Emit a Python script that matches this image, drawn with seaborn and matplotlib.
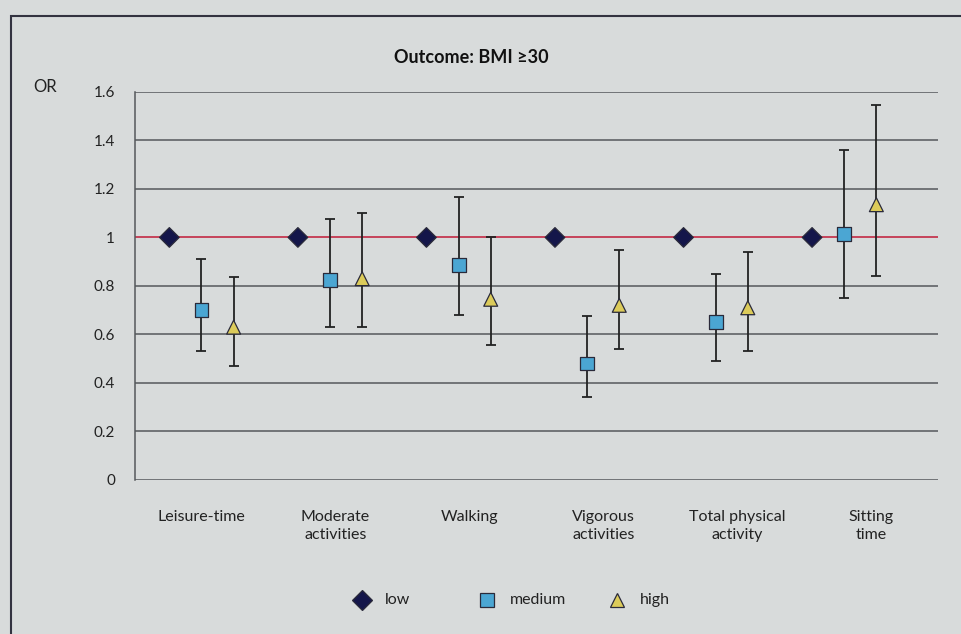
import matplotlib
matplotlib.use("Agg")
import matplotlib.pyplot as plt
from matplotlib.patches import Rectangle
from matplotlib.lines import Line2D
import numpy as np
import pandas as pd
import seaborn as sns

# Odds ratios (low level is the reference = 1)
activities = ["Leisure-time", "Moderate\nactivities", "Walking", "Vigorous\nactivities",
              "Total physical\nactivity", "Sitting\ntime"]
levels = ["low", "medium", "high"]

low_or = [1, 1, 1, 1, 1, 1]
medium_or = [0.70, 0.825, 0.885, 0.48, 0.65, 1.015]
medium_lo = [0.53, 0.63, 0.68, 0.34, 0.49, 0.75]
medium_hi = [0.91, 1.075, 1.165, 0.675, 0.85, 1.36]
high_or = [0.63, 0.83, 0.745, 0.72, 0.71, 1.135]
high_lo = [0.47, 0.63, 0.555, 0.54, 0.53, 0.84]
high_hi = [0.835, 1.10, 1.0, 0.95, 0.94, 1.545]

y_ticks = [0, 0.2, 0.4, 0.6, 0.8, 1, 1.2, 1.4, 1.6]
y_tick_labels = ["0", "0.2", "0.4", "0.6", "0.8", "1", "1.2", "1.4", "1.6"]

bg = "#d8dbdb"
colors = {"low": "#14164a", "medium": "#4ba6d3", "high": "#dccb5a"}
markers = {"low": "D", "medium": "s", "high": "^"}
offsets = {"low": -0.24, "medium": 0.0, "high": 0.24}
group_step = 0.96   # markers sit on a slightly tighter grid than the labels

rows = []
for i, act in enumerate(activities):
    rows.append(dict(act=act, level="low", OR=low_or[i], lo=np.nan, hi=np.nan, idx=i))
    rows.append(dict(act=act, level="medium", OR=medium_or[i], lo=medium_lo[i], hi=medium_hi[i], idx=i))
    rows.append(dict(act=act, level="high", OR=high_or[i], lo=high_lo[i], hi=high_hi[i], idx=i))
df = pd.DataFrame(rows)
df["x"] = df["idx"] * group_step + df["level"].map(offsets)

sns.set_style("white")
plt.rcParams["font.family"] = ["Lato", "DejaVu Sans"]

fig = plt.figure(figsize=(9.61, 6.34), dpi=100, facecolor=bg)
ax = fig.add_axes([0.140, 0.243, 0.836, 0.612], facecolor=bg)

# frame around the chart area
fig.patches.append(Rectangle((0.011, -0.05), 1.1, 1.025, transform=fig.transFigure,
                             fill=False, edgecolor="#333340", linewidth=1.5))

for yv in y_ticks:
    ax.axhline(yv, color="#55585c", linewidth=1.1, zorder=1)
ax.axhline(1, color="#d0435a", linewidth=1.3, zorder=2)

# error bars
for lvl in ["medium", "high"]:
    sub = df[df["level"] == lvl]
    ax.errorbar(sub["x"], sub["OR"], yerr=[sub["OR"] - sub["lo"], sub["hi"] - sub["OR"]],
                fmt="none", ecolor="#222222", elinewidth=1.3, capsize=3.5, capthick=1.3, zorder=3)

sns.scatterplot(data=df, x="x", y="OR", hue="level", style="level", hue_order=levels,
                style_order=levels, palette=colors, markers=markers, s=100,
                edgecolor="#2a2a3a", linewidth=0.9, ax=ax, zorder=4, legend=False)

ax.set_xlim(-0.5, 5.5)
ax.set_ylim(0, 1.6)
ax.set_yticks(y_ticks)
ax.set_yticklabels(y_tick_labels, fontsize=11, color="#222222")
ax.set_xticks(range(len(activities)))
ax.set_xticklabels(activities, fontsize=11.5, color="#222222", linespacing=1.3)
ax.tick_params(axis="x", length=0, pad=22)
ax.tick_params(axis="y", length=6, width=1.1, color="#55585c", pad=8)
ax.set_xlabel("")
ax.set_ylabel("")
for side in ["top", "right", "bottom"]:
    ax.spines[side].set_visible(False)
ax.spines["left"].set_color("#55585c")
ax.spines["left"].set_linewidth(1.1)

fig.text(0.49, 0.91, "Outcome: BMI ≥30", ha="center", va="center",
         fontsize=13, fontweight="bold", color="#111111")
fig.text(0.047, 0.862, "OR", ha="center", va="center", fontsize=12, color="#222222")

# legend along the bottom
legend_x = [0.377, 0.507, 0.642]
for lvl, lx in zip(levels, legend_x):
    fig.add_artist(Line2D([lx], [0.054], transform=fig.transFigure, linestyle="none",
                          marker=markers[lvl], markersize=10, markerfacecolor=colors[lvl],
                          markeredgecolor="#2a2a3a", markeredgewidth=0.9))
    fig.text(lx + 0.024, 0.054, lvl, ha="left", va="center", fontsize=11.5, color="#222222")

fig.savefig("out.png", dpi=100, facecolor=bg)
